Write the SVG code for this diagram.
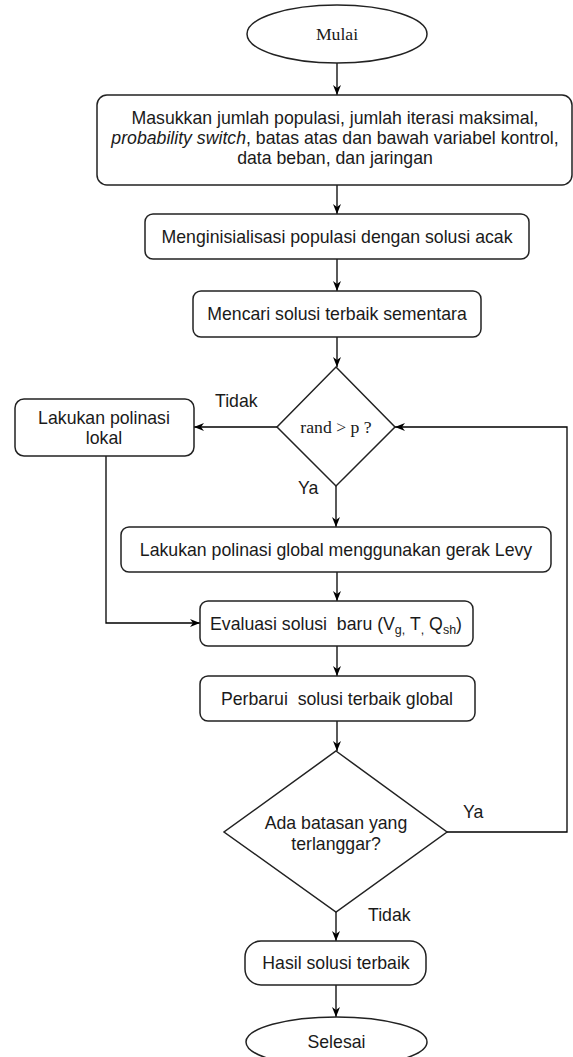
<svg xmlns="http://www.w3.org/2000/svg" width="573" height="1057" viewBox="0 0 573 1057">
<defs>
<marker id="arr" viewBox="0 0 10 8" refX="10" refY="4" markerWidth="10" markerHeight="8" markerUnits="userSpaceOnUse" orient="auto">
<path d="M0,0 L10,4 L0,8 L3,4 z" fill="#000"/>
</marker>
<style>
.shape{fill:#fff;stroke:#222;stroke-width:1.5}
.edge{fill:none;stroke:#000;stroke-width:1.3}
.t{font-family:"Liberation Sans",Arial,sans-serif;font-size:17.7px;fill:#1a1a1a;text-anchor:middle}
.s{font-family:"Liberation Serif","Times New Roman",serif;font-size:17.7px;fill:#1a1a1a;text-anchor:middle}
.lbl{font-family:"Liberation Sans",Arial,sans-serif;font-size:17.7px;fill:#1a1a1a}
</style>
</defs>
<rect width="573" height="1057" fill="#fff"/>
<g id="connectors">
<path class="edge" d="M337,63 V95" marker-end="url(#arr)"/>
<path class="edge" d="M337,185 V214" marker-end="url(#arr)"/>
<path class="edge" d="M337,259 V291" marker-end="url(#arr)"/>
<path class="edge" d="M337,337 V367" marker-end="url(#arr)"/>
<path class="edge" d="M277,427 H194" marker-end="url(#arr)"/>
<path class="edge" d="M336,486 V527" marker-end="url(#arr)"/>
<path class="edge" d="M106,456 V623 H200" marker-end="url(#arr)"/>
<path class="edge" d="M337,572 V601" marker-end="url(#arr)"/>
<path class="edge" d="M337,646 V676" marker-end="url(#arr)"/>
<path class="edge" d="M337,721 V751" marker-end="url(#arr)"/>
<path class="edge" d="M447,832 H567 V427 H395" marker-end="url(#arr)"/>
<path class="edge" d="M336,912 V941" marker-end="url(#arr)"/>
<path class="edge" d="M336,985 V1017" marker-end="url(#arr)"/>
<text class="lbl" x="215" y="407">Tidak</text>
<text class="lbl" x="298" y="494">Ya</text>
<text class="lbl" x="463" y="818">Ya</text>
<text class="lbl" x="368" y="921">Tidak</text>
</g>
<g id="mulai">
<ellipse class="shape" cx="337" cy="34" rx="90" ry="29"/>
<text class="s" x="337" y="40">Mulai</text>
</g>
<g id="input">
<rect class="shape" x="97" y="95" width="475" height="90" rx="10"/>
<text class="t" x="335" y="124">Masukkan jumlah populasi, jumlah iterasi maksimal,</text>
<text class="t" x="335" y="144"><tspan font-style="italic">probability switch</tspan>, batas atas dan bawah variabel kontrol,</text>
<text class="t" x="335" y="163.5">data beban, dan jaringan</text>
</g>
<g id="init">
<rect class="shape" x="145" y="214" width="384" height="45" rx="8"/>
<text class="t" x="337" y="243">Menginisialisasi populasi dengan solusi acak</text>
</g>
<g id="cari">
<rect class="shape" x="193" y="291" width="288" height="46" rx="8"/>
<text class="t" x="337" y="320">Mencari solusi terbaik sementara</text>
</g>
<g id="decision1">
<polygon class="shape" points="336,367 395,427 336,486 277,427"/>
<text class="s" x="336" y="433">rand &gt; p ?</text>
</g>
<g id="lokal">
<rect class="shape" x="15" y="399" width="179" height="57" rx="9"/>
<text class="t" x="104" y="424">Lakukan polinasi</text>
<text class="t" x="104" y="444">lokal</text>
</g>
<g id="global">
<rect class="shape" x="121" y="527" width="430" height="45" rx="8"/>
<text class="t" x="336" y="555.5">Lakukan polinasi global menggunakan gerak Levy</text>
</g>
<g id="evaluasi">
<rect class="shape" x="200" y="601" width="273" height="45" rx="8"/>
<text class="t" x="336" y="629.5" xml:space="preserve">Evaluasi solusi  baru (V<tspan font-size="12.5" dy="4">g,</tspan><tspan dy="-4"> T</tspan><tspan font-size="12.5" dy="4">,</tspan><tspan dy="-4"> Q</tspan><tspan font-size="12.5" dy="4">sh</tspan><tspan dy="-4">)</tspan></text>
</g>
<g id="perbarui">
<rect class="shape" x="200" y="676" width="275" height="45" rx="8"/>
<text class="t" x="337" y="704.5" xml:space="preserve">Perbarui  solusi terbaik global</text>
</g>
<g id="decision2">
<polygon class="shape" points="336,751 447,832 336,912 224,832"/>
<text class="t" x="336" y="829">Ada batasan yang</text>
<text class="t" x="336" y="849.5">terlanggar?</text>
</g>
<g id="hasil">
<rect class="shape" x="245" y="941" width="181" height="44" rx="16"/>
<text class="t" x="336" y="969">Hasil solusi terbaik</text>
</g>
<g id="selesai">
<ellipse class="shape" cx="336.5" cy="1042" rx="90.5" ry="25"/>
<text class="t" x="336.5" y="1048">Selesai</text>
</g>
</svg>
